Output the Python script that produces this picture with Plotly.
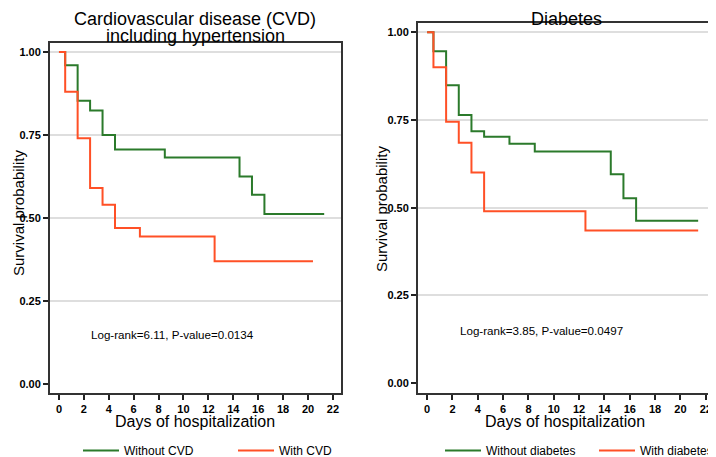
import plotly.graph_objects as go

# Kaplan-Meier step curves
cvd_days_without = [0, 0.5, 1.5, 2.5, 3.5, 4.5, 8.5, 14.5, 15.5, 16.5, 21.3]
cvd_surv_without = [1.0, 0.96, 0.853, 0.824, 0.75, 0.706, 0.682, 0.625, 0.57, 0.512, 0.512]
cvd_days_with = [0, 0.5, 1.5, 2.5, 3.5, 4.5, 6.5, 12.5, 20.4]
cvd_surv_with = [1.0, 0.88, 0.74, 0.59, 0.54, 0.47, 0.444, 0.37, 0.37]

dm_days_without = [0, 0.5, 1.5, 2.5, 3.5, 4.5, 6.5, 8.5, 14.5, 15.5, 16.5, 21.4]
dm_surv_without = [1.0, 0.946, 0.849, 0.764, 0.718, 0.702, 0.682, 0.66, 0.595, 0.527, 0.463, 0.463]
dm_days_with = [0, 0.5, 1.5, 2.5, 3.5, 4.5, 12.5, 21.4]
dm_surv_with = [1.0, 0.90, 0.745, 0.685, 0.60, 0.49, 0.435, 0.435]

x_ticks = list(range(0, 23, 2))
y_ticks = [0, 0.25, 0.5, 0.75, 1.0]
y_ticktext = ["0.00", "0.25", "0.50", "0.75", "1.00"]

GREEN = "#2b7a2b"
RED = "#ff5026"
FONT = "Liberation Sans, Arial, sans-serif"
# the page body keeps an 8px margin: figure is 8px smaller and positions are given in window pixels
W, H = 708, 449
OFF = 8

fig = go.Figure()

traces = [
    (cvd_days_without, cvd_surv_without, GREEN, "Without CVD", "x", "y", "legend"),
    (cvd_days_with, cvd_surv_with, RED, "With CVD", "x", "y", "legend2"),
    (dm_days_without, dm_surv_without, GREEN, "Without diabetes", "x2", "y2", "legend3"),
    (dm_days_with, dm_surv_with, RED, "With diabetes", "x2", "y2", "legend4"),
]
for xs, ys, col, name, xa, ya, lg in traces:
    fig.add_trace(go.Scatter(x=xs, y=ys, mode="lines", line_shape="hv",
                             line=dict(color=col, width=2), name=name,
                             xaxis=xa, yaxis=ya, legend=lg))

xax = dict(range=[-0.72, 22.65], tickvals=x_ticks, ticks="outside", ticklen=5, tickwidth=1.5,
           tickcolor="#222", showgrid=False, zeroline=False, showline=True, linecolor="#333",
           linewidth=2, mirror=True, ticklabeloverflow="allow",
           tickfont=dict(size=11, color="black", weight="bold"))
yax = dict(range=[-0.027, 1.027], tickvals=y_ticks, ticktext=y_ticktext, ticks="outside",
           ticklen=5, tickwidth=1.5, tickcolor="#222", showgrid=True, gridcolor="#dedede",
           gridwidth=1.5, zeroline=True, zerolinecolor="white", showline=True, linecolor="#333",
           linewidth=2, mirror=True, tickfont=dict(size=11, color="black", weight="bold"))


def xdom(a, b):
    return [(a - OFF) / W, (b - OFF) / W]


def ydom(top, bottom):
    return [(H - (bottom - OFF)) / H, (H - (top - OFF)) / H]


def legend_at(px):
    return dict(x=(px - OFF) / W, xanchor="left", y=-8 / H, yanchor="bottom", orientation="h",
                font=dict(size=12, color="black"), itemwidth=36, bgcolor="rgba(0,0,0,0)")


def note(text, px, py, size, angle=0):
    return dict(text=text, xref="paper", yref="paper", x=(px - OFF) / W, y=1 - (py - OFF) / H,
                xanchor="center", yanchor="middle", textangle=angle, showarrow=False,
                font=dict(size=size, color="black"))


fig.update_layout(
    width=W, height=H,
    margin=dict(l=0, r=0, t=0, b=0, autoexpand=False),
    showlegend=True,
    paper_bgcolor="white", plot_bgcolor="white",
    font=dict(family=FONT, color="black"),
    xaxis=dict(xax, domain=xdom(50, 341), anchor="y"),
    yaxis=dict(yax, domain=ydom(43, 393), anchor="x"),
    xaxis2=dict(xax, domain=xdom(418, 714), anchor="y2"),
    yaxis2=dict(yax, domain=ydom(22.7, 392.7), anchor="x2"),
    legend=legend_at(78),
    legend2=legend_at(233),
    legend3=legend_at(440),
    legend4=legend_at(594),
    annotations=[
        note("Cardiovascular disease (CVD)", 195, 19.5, 18),
        note("including hypertension", 195, 36, 18),
        note("Diabetes", 566, 19.5, 18),
        note("Survival probability", 18, 213, 15, -90),
        note("Survival probability", 381, 209, 15, -90),
        note("Days of hospitalization", 195, 421.7, 16),
        note("Days of hospitalization", 565, 421.7, 16),
        dict(text="Log-rank=6.11, P-value=0.0134", xref="x", yref="y", x=2.45, y=0.148,
             xanchor="left", showarrow=False, font=dict(size=11.6, color="black")),
        dict(text="Log-rank=3.85, P-value=0.0497", xref="x2", yref="y2", x=2.42, y=0.15,
             xanchor="left", showarrow=False, font=dict(size=11.6, color="black")),
    ],
)

fig.write_html("out.html")
